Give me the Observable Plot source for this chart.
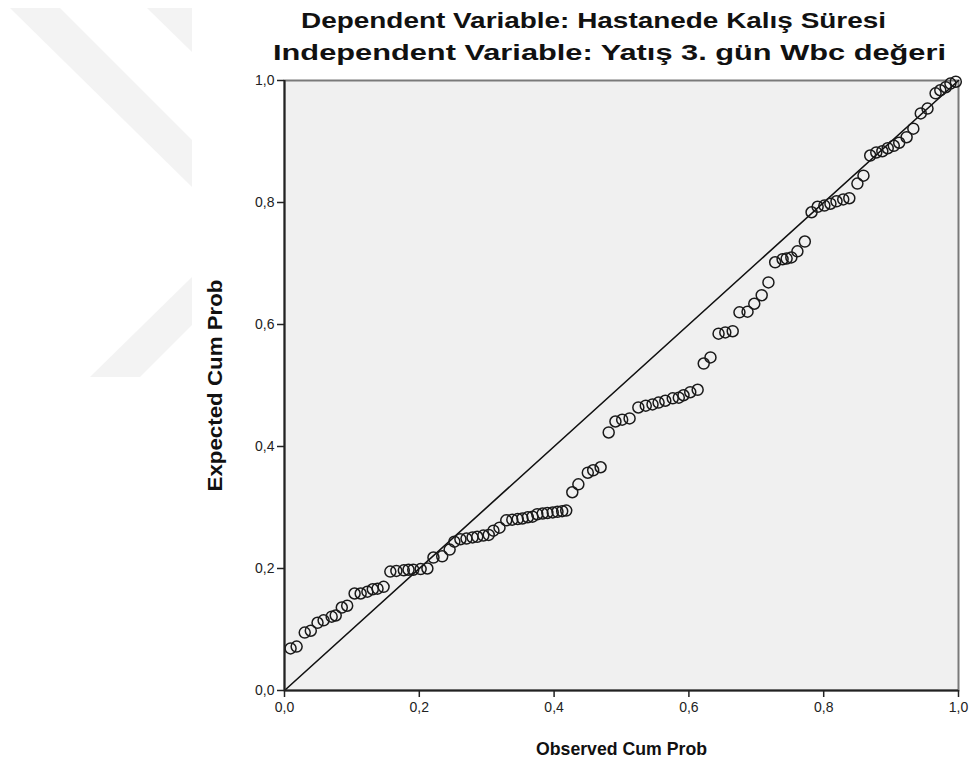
<!DOCTYPE html>
<html>
<head>
<meta charset="utf-8">
<script src="https://cdn.jsdelivr.net/npm/d3@7"></script>
<script src="https://cdn.jsdelivr.net/npm/@observablehq/plot@0.6"></script>
<style>
  html, body { margin: 0; padding: 0; background: #fff; }
  #wrap { position: relative; width: 975px; height: 767px; }
  #mark { position: absolute; left: 0; top: 0; }
  #chart { position: absolute; left: 0; top: 0; }
</style>
</head>
<body>
<div id="wrap">
  <!-- faint page watermark behind the chart -->
  <svg id="mark" width="975" height="767">
    <g fill="#f3f3f3">
      <polygon points="10,8 60,8 192,140 192,187"/>
      <polygon points="147,8 192,8 192,52"/>
      <polygon points="192,277 90,377 140,377 192,325"/>
    </g>
  </svg>
  <div id="chart"></div>
</div>
<script>
// P-P plot of regression standardized residuals
const title1 = "Dependent Variable: Hastanede Kalış Süresi";
const title2 = "Independent Variable: Yatış 3. gün Wbc değeri";
const xLabel = "Observed Cum Prob";
const yLabel = "Expected Cum Prob";
const tickValues = [0, 0.2, 0.4, 0.6, 0.8, 1.0];

const observed = [
  0.009, 0.018, 0.030, 0.039, 0.049, 0.058, 0.070, 0.076, 0.085, 0.093,
  0.104, 0.113, 0.123, 0.131, 0.138, 0.147, 0.157, 0.166, 0.177, 0.184,
  0.191, 0.202, 0.212, 0.221, 0.234, 0.245, 0.252, 0.261, 0.270, 0.279,
  0.286, 0.295, 0.303, 0.310, 0.319, 0.329, 0.338, 0.346, 0.353, 0.361,
  0.368, 0.375, 0.383, 0.390, 0.398, 0.405, 0.412, 0.418, 0.427, 0.436,
  0.450, 0.458, 0.469, 0.481, 0.491, 0.501, 0.512, 0.525, 0.536, 0.546,
  0.555, 0.565, 0.576, 0.585, 0.592, 0.602, 0.613, 0.622, 0.632, 0.644,
  0.654, 0.665, 0.675, 0.687, 0.697, 0.708, 0.718, 0.728, 0.739, 0.745,
  0.752, 0.761, 0.772, 0.782, 0.791, 0.801, 0.810, 0.819, 0.829, 0.838,
  0.850, 0.859, 0.869, 0.878, 0.887, 0.895, 0.904, 0.912, 0.923, 0.933,
  0.944, 0.954, 0.966, 0.973, 0.981, 0.988, 0.996
];
const expected = [
  0.069, 0.072, 0.095, 0.098, 0.111, 0.115, 0.121, 0.123, 0.136, 0.139,
  0.159, 0.159, 0.162, 0.166, 0.167, 0.170, 0.195, 0.196, 0.197, 0.198,
  0.198, 0.199, 0.200, 0.218, 0.220, 0.231, 0.244, 0.248, 0.249, 0.251,
  0.252, 0.254, 0.255, 0.262, 0.267, 0.279, 0.280, 0.281, 0.282, 0.284,
  0.285, 0.289, 0.290, 0.291, 0.292, 0.293, 0.294, 0.295, 0.325, 0.338,
  0.357, 0.361, 0.366, 0.423, 0.441, 0.444, 0.446, 0.464, 0.467, 0.469,
  0.472, 0.475, 0.479, 0.480, 0.484, 0.489, 0.493, 0.536, 0.546, 0.585,
  0.587, 0.589, 0.620, 0.621, 0.634, 0.648, 0.669, 0.702, 0.707, 0.708,
  0.710, 0.720, 0.736, 0.784, 0.793, 0.795, 0.798, 0.802, 0.805, 0.807,
  0.831, 0.844, 0.877, 0.882, 0.884, 0.889, 0.893, 0.898, 0.907, 0.921,
  0.946, 0.954, 0.979, 0.984, 0.989, 0.995, 0.998
];
const diagonal = [0, 1];

const points = observed.map((o, i) => ({observed: o, expected: expected[i]}));
const comma = d => d.toFixed(1).replace(".", ",");

const chart = Plot.plot({
  width: 975,
  height: 767,
  marginLeft: 284,
  marginRight: 17,
  marginTop: 80,
  marginBottom: 77,
  style: {fontFamily: "'Liberation Sans', Arial, sans-serif", background: "transparent", color: "#222"},
  x: {domain: [0, 1]},
  y: {domain: [0, 1]},
  marks: [
    Plot.frame({fill: "#f0f0f0"}),
    Plot.frame({stroke: "#7a7a7a", strokeWidth: 2}),
    Plot.line(diagonal, {x: d => d, y: d => d, stroke: "#111", strokeWidth: 1.6}),
    Plot.dot(points, {x: "observed", y: "expected", r: 5.5, stroke: "#1a1a1a", strokeWidth: 1.5, fill: "none"}),
    Plot.ruleX([0], {stroke: "#222", strokeWidth: 2}),
    Plot.ruleY([0], {stroke: "#222", strokeWidth: 2}),
    Plot.axisX({ticks: tickValues, tickFormat: comma, tickSize: 7, tickPadding: 5, fontSize: 14, label: null, stroke: "#222", strokeWidth: 1.5}),
    Plot.axisY({ticks: tickValues, tickFormat: comma, tickSize: 7, tickPadding: 3, fontSize: 14, label: null, stroke: "#222", strokeWidth: 1.5}),
    Plot.text([xLabel], {text: d => d, frameAnchor: "bottom", lineAnchor: "middle", dy: 58, fontSize: 19, fontWeight: "bold", fill: "#111"}),
    Plot.text([yLabel], {text: d => d, frameAnchor: "left", textAnchor: "middle", lineAnchor: "middle", dx: -69, rotate: -90, fontSize: 20, fontWeight: "bold", fill: "#111"}),
    Plot.text([title1], {text: d => d, frameAnchor: "top", lineAnchor: "middle", dx: -28, dy: -60, fontSize: 22, fontWeight: "bold", fill: "#111"}),
    Plot.text([title2], {text: d => d, frameAnchor: "top", lineAnchor: "middle", dx: -12, dy: -28, fontSize: 22, fontWeight: "bold", fill: "#111"})
  ]
});

// stretch the titles and axis labels to their printed widths
const widths = new Map([[title1, 585], [title2, 673], [xLabel, 171], [yLabel, 212]]);
chart.querySelectorAll("text").forEach(t => {
  const w = widths.get(t.textContent);
  if (w) {
    t.setAttribute("textLength", w);
    t.setAttribute("lengthAdjust", "spacingAndGlyphs");
  }
});
document.getElementById("chart").appendChild(chart);
</script>
</body>
</html>
